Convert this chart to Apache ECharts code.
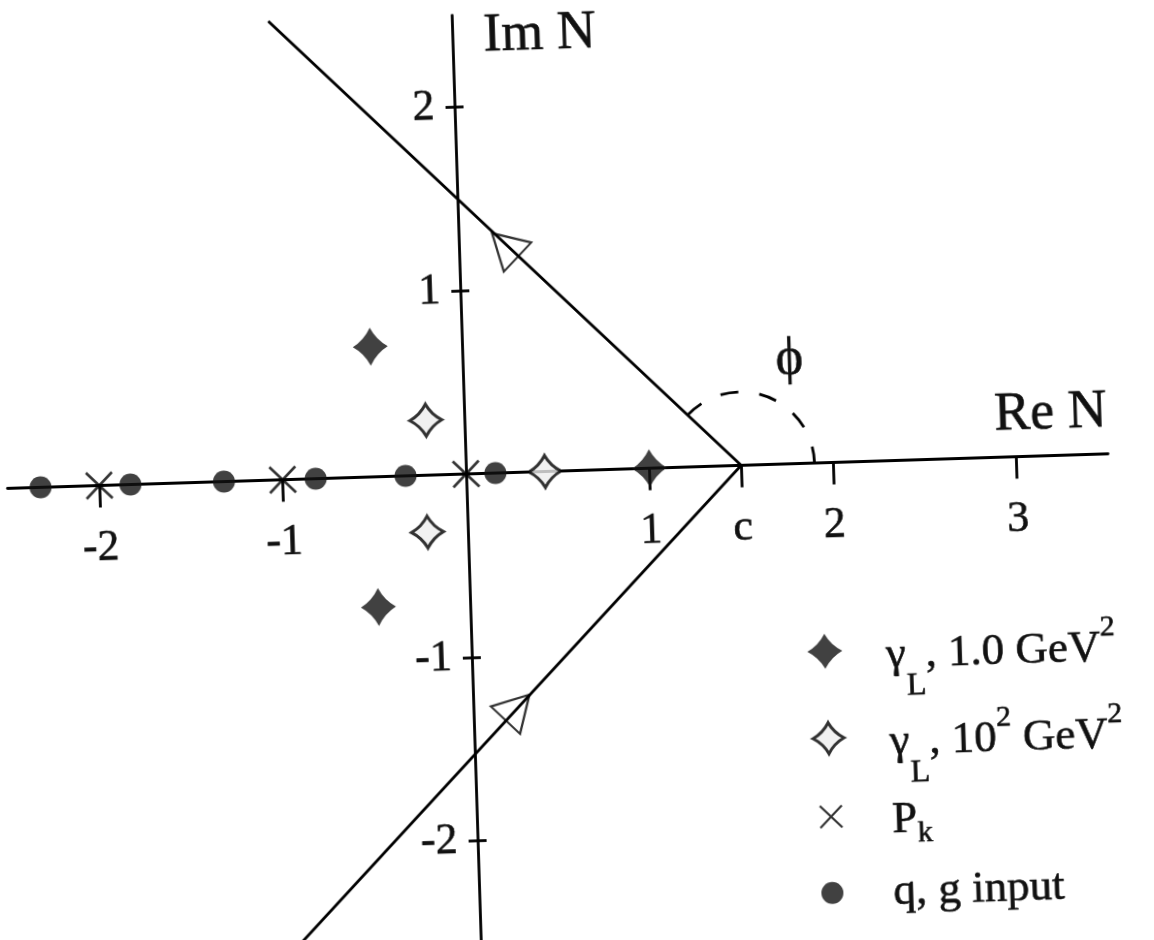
<!DOCTYPE html>
<html lang="en">
<head>
  <meta charset="utf-8">
  <title>Mellin contour in the complex N plane</title>
  <script src="https://cdn.jsdelivr.net/npm/echarts@6/dist/echarts.min.js"></script>
  <style>
    html, body { margin: 0; padding: 0; background: #fff; overflow: hidden; }
    /* the scanned figure is turned a little, so the whole chart is turned too */
    #main { width: 1154px; height: 940px; transform: rotate(-1.8deg); }
  </style>
</head>
<body>
<div id="main"></div>
<script type="text/javascript">
// points (Re N, Im N)
var gamma1Re = [-0.50, -0.50, 1.00];
var gamma1Im = [0.71, -0.71, 0];
var gamma100Re = [-0.21, -0.22, 0.43];
var gamma100Im = [0.30, -0.31, 0];
var pkRe = [-2, -1, 0];
var pkIm = [0, 0, 0];
var inputRe = [-2.32, -1.83, -1.32, -0.82, -0.33, 0.16];
var inputIm = [0, 0, 0, 0, 0, 0];

// contour through c at angle phi
var cPoint = 1.5;
var phiDeg = 135;
var contourRe = [-1.0, 1.5, -1.05];
var contourIm = [2.5, 0, -2.6];
var arrowRe = [0.25, 0.24];
var arrowIm = [1.24, -1.28];
var arrowRot = [45, -45];
var arcRadius = 0.4;
var phiLabelPos = [1.78, 0.57];

// ticks
var reTicks = [-2, -1, 1, 1.5, 2, 3];
var imTicks = [-2, -1, 1, 2];
var reMin = -2.5, reMax = 3.5, imMin = -2.6, imMax = 2.5;

var serif = 'Liberation Serif';
var ink = '#111';
var starPath = 'path://M0,-20 Q7,-7 20,0 Q7,7 0,20 Q-7,7 -20,0 Q-7,-7 0,-20 Z';
var crossPath = 'path://M-10,-10 L10,10 M10,-10 L-10,10';

// plot box: 183.5 px per unit on both axes
var unit = 183.5;
var gridLeft = 7.25, gridTop = 11.75;
var gridW = (reMax - reMin) * unit, gridH = (imMax - imMin) * unit;
var zeroFromLeft = -reMin * unit, zeroFromBottom = -imMin * unit;

function pairs(xs, ys) {
  return xs.map(function (x, i) { return [x, ys[i]]; });
}

var names = ['γL , 1.0 GeV2', 'γL , 10^2 GeV2', 'Pk', 'q, g input'];
var legendText = {};
legendText[names[0]] = '{m|γ}{sub|L}{m|, 1.0 GeV}{sup|2}';
legendText[names[1]] = '{m|γ}{sub|L}{m|, 10}{sup|2}{m| GeV}{sup|2}';
legendText[names[2]] = '{m|P}{subk|k}';
legendText[names[3]] = '{m|q, g input}';

var heavy = { textBorderColor: ink, textBorderWidth: 0.6 };
function txt(o) { return Object.assign({ fontFamily: serif, color: ink }, heavy, o); }

var rich = {
  m: txt({ fontSize: 45, lineHeight: 52 }),
  sub: txt({ fontSize: 32, lineHeight: 30, padding: [64, 0, 0, 0] }),
  subk: txt({ fontSize: 30, lineHeight: 30, padding: [28, 0, 0, 0] }),
  sup: txt({ fontSize: 30, lineHeight: 30, padding: [0, 0, 42, 0] })
};

var legendRows = [
  { name: names[0], icon: starPath, w: 35, h: 38, top: 617, pad: 12, style: { color: ink } },
  { name: names[1], icon: starPath, w: 32, h: 31, top: 704, pad: 12, style: { color: '#eee', borderColor: '#000', borderWidth: 3 } },
  { name: names[2], icon: crossPath, w: 22, h: 22, top: 801.5, pad: 12, style: { color: 'rgba(0,0,0,0)', borderColor: '#000', borderWidth: 2.2 } },
  { name: names[3], icon: 'circle', w: 22, h: 22, top: 879, pad: 2, style: { color: ink } }
];

var iconX = 819, textX = 880;
var legends = legendRows.map(function (r) {
  return {
    selectedMode: false,
    orient: 'vertical',
    left: iconX - r.w / 2,
    top: r.top,
    padding: 0,
    itemWidth: r.w,
    itemHeight: r.h,
    itemStyle: r.style,
    textStyle: { rich: rich, padding: [r.pad, 0, 0, textX - (iconX + r.w / 2) - 5] },
    formatter: function (n) { return legendText[n]; },
    data: [{ name: r.name, icon: r.icon }]
  };
});

var lineW = 2.8;
var myChart = echarts.init(document.getElementById('main'));

var option = {
  backgroundColor: '#fff',
  animation: false,
  legend: legends,
  grid: { left: gridLeft, top: gridTop, width: gridW, height: gridH, containLabel: false, outerBoundsMode: 'none' },
  xAxis: {
    type: 'value',
    min: reMin,
    max: reMax,
    position: 'bottom',
    offset: -zeroFromBottom,
    name: 'Re N',
    nameLocation: 'end',
    nameGap: 0,
    nameTextStyle: txt({ fontSize: 54, align: 'right', verticalAlign: 'bottom', padding: [0, 0, 15, 0] }),
    axisLine: { onZero: false, lineStyle: { color: '#000', width: lineW } },
    axisTick: { show: true, length: 22, lineStyle: { color: '#000', width: lineW }, customValues: reTicks },
    axisLabel: Object.assign(txt({ fontSize: 44 }), {
      customValues: reTicks,
      margin: 41,
      formatter: function (v) { return v === cPoint ? 'c' : String(v); }
    }),
    splitLine: { show: false }
  },
  yAxis: [
    {
      type: 'value',
      min: imMin,
      max: imMax,
      position: 'left',
      offset: -zeroFromLeft,
      name: 'Im N',
      nameLocation: 'end',
      nameGap: 5,
      nameTextStyle: txt({ fontSize: 54, align: 'left', verticalAlign: 'top', padding: [0, 0, 0, 31] }),
      axisLine: { onZero: false, lineStyle: { color: '#000', width: lineW } },
      axisTick: { show: true, length: 9, lineStyle: { color: '#000', width: lineW }, customValues: imTicks },
      axisLabel: Object.assign(txt({ fontSize: 44 }), { customValues: imTicks, margin: 20 }),
      splitLine: { show: false }
    },
    {
      // second copy only for the right half of the ticks
      type: 'value',
      min: imMin,
      max: imMax,
      position: 'left',
      offset: -zeroFromLeft,
      axisLine: { show: false, onZero: false },
      axisTick: { show: true, inside: true, length: 9, lineStyle: { color: '#000', width: lineW }, customValues: imTicks },
      axisLabel: { show: false },
      splitLine: { show: false }
    }
  ],
  series: [
    {
      name: 'contour',
      type: 'line',
      data: pairs(contourRe, contourIm),
      showSymbol: false,
      symbol: 'none',
      lineStyle: { color: '#000', width: lineW },
      silent: true,
      z: 3
    },
    {
      name: 'arrows',
      type: 'scatter',
      data: arrowRe.map(function (x, i) { return { value: [x, arrowIm[i]], symbolRotate: arrowRot[i] }; }),
      symbol: 'triangle',
      symbolSize: [40, 35],
      itemStyle: { color: 'rgba(0,0,0,0)', borderColor: '#000', borderWidth: 2.2 },
      silent: true,
      z: 4
    },
    {
      name: 'phi',
      type: 'custom',
      data: [[cPoint, 0, arcRadius, phiLabelPos[0], phiLabelPos[1]]],
      silent: true,
      z: 4,
      renderItem: function (params, api) {
        var c = api.coord([api.value(0), api.value(1)]);
        var r = api.size([api.value(2), 0])[0];
        var lp = api.coord([api.value(3), api.value(4)]);
        return {
          type: 'group',
          children: [
            {
              type: 'arc',
              shape: { cx: c[0], cy: c[1], r: r, startAngle: -phiDeg * Math.PI / 180, endAngle: 0, clockwise: true },
              style: { fill: 'none', stroke: '#000', lineWidth: lineW, lineDash: [18, 21] }
            },
            {
              type: 'text',
              x: lp[0],
              y: lp[1],
              style: { text: 'ϕ', fontFamily: serif, fontSize: 52, fill: ink, stroke: ink, lineWidth: 0.6, align: 'center', verticalAlign: 'middle' }
            }
          ]
        };
      }
    },
    {
      name: names[3],
      type: 'scatter',
      data: pairs(inputRe, inputIm),
      symbol: 'circle',
      symbolSize: 22,
      itemStyle: { color: ink },
      z: 5
    },
    {
      name: names[2],
      type: 'scatter',
      data: pairs(pkRe, pkIm),
      symbol: crossPath,
      symbolSize: 26,
      itemStyle: { color: 'rgba(0,0,0,0)', borderColor: '#000', borderWidth: 2.6 },
      z: 5
    },
    {
      name: names[1],
      type: 'scatter',
      data: pairs(gamma100Re, gamma100Im),
      symbol: starPath,
      symbolSize: [32, 32],
      itemStyle: { color: '#eee', borderColor: '#000', borderWidth: 3 },
      z: 5
    },
    {
      name: names[0],
      type: 'scatter',
      data: pairs(gamma1Re, gamma1Im),
      symbol: starPath,
      symbolSize: [35, 38],
      itemStyle: { color: ink },
      z: 5
    }
  ]
};

myChart.setOption(option);
</script>
</body>
</html>
